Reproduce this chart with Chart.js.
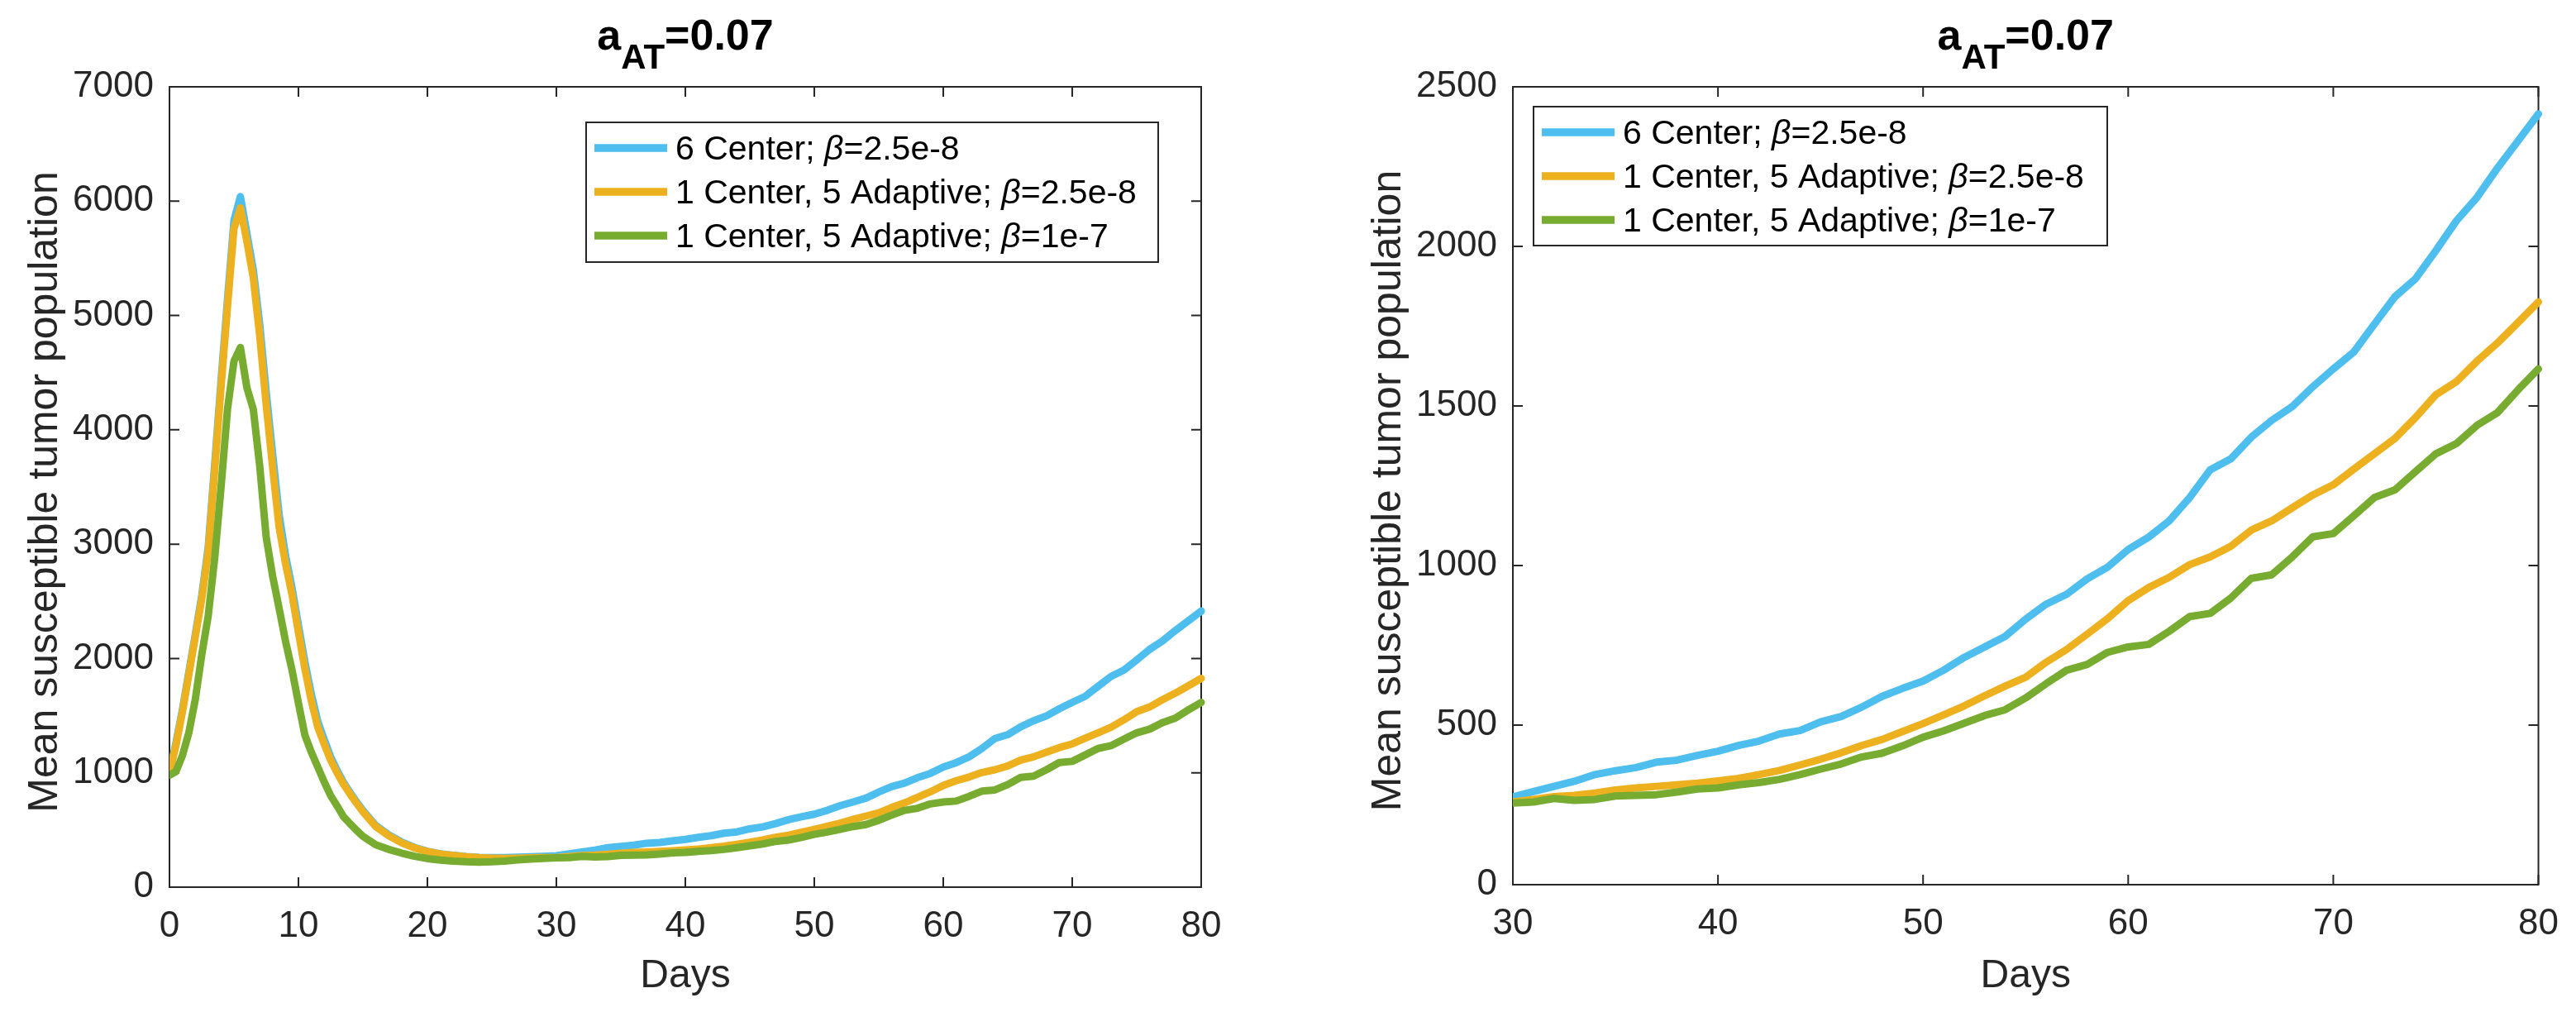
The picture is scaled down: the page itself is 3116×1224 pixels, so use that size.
<!DOCTYPE html>
<html>
<head>
<meta charset="utf-8">
<script src="https://cdn.jsdelivr.net/npm/chart.js@4.4.1/dist/chart.umd.min.js"></script>
<style>
  body { margin: 0; background: #fff; }
  #wrap { position: relative; width: 3116px; height: 1224px; }
  canvas { position: absolute; top: 0; }
</style>
</head>
<body>
<div id="wrap">
  <canvas id="leftChart" width="1558" height="1224" style="left:0"></canvas>
  <canvas id="rightChart" width="1558" height="1224" style="left:1558px"></canvas>
</div>
<script>
// days sampled every half day up to 15, then daily
const days = [0,0.5,1,1.5,2,2.5,3,3.5,4,4.5,5,5.5,6,6.5,7,7.5,8,8.5,9,9.5,10,10.5,11,11.5,12,12.5,13,13.5,14,14.5,15,
  16,17,18,19,20,21,22,23,24,25,26,27,28,29,30,31,32,33,34,35,36,37,38,39,40,41,42,43,44,45,46,47,48,49,50,
  51,52,53,54,55,56,57,58,59,60,61,62,63,64,65,66,67,68,69,70,71,72,73,74,75,76,77,78,79,80];

const sixCenter = [1000,1260,1550,1880,2210,2550,2970,3690,4430,5140,5830,6040,5720,5400,4920,4330,3790,3260,2900,2620,2290,1970,1690,1450,1290,1140,1020,915,828,748,672,
  540,458,394,347,314,292,278,268,261,258,258,262,266,270,
  275,292,308,324,345,357,367,384,390,405,418,436,450,472,483,510,527,556,590,615,638,672,712,745,778,832,879,910,958,995,
  1050,1089,1140,1213,1300,1334,1402,1455,1498,1560,1616,1669,1756,1842,1898,1987,2080,2153,2245,2330,2415];

const adaptiveLow = [1000,1240,1530,1860,2190,2520,2930,3640,4380,5080,5760,5940,5650,5330,4820,4220,3670,3150,2830,2560,2230,1910,1630,1400,1250,1110,1000,900,815,735,660,
  530,450,388,342,311,290,277,266,258,254,252,254,256,258,
  259,267,276,280,287,297,303,308,313,318,325,333,345,358,375,393,413,436,455,480,505,532,560,592,622,650,697,737,785,834,
  890,931,963,1003,1027,1060,1111,1140,1181,1221,1253,1302,1350,1398,1463,1535,1576,1640,1697,1761,1826];

const adaptiveHigh = [980,1010,1150,1350,1640,2030,2370,2870,3500,4180,4600,4720,4370,4180,3680,3060,2720,2440,2150,1900,1610,1330,1180,1050,920,800,710,615,555,498,445,
  370,330,298,270,250,237,228,222,219,222,228,238,246,252,
  256,259,270,264,267,278,280,282,290,300,303,313,320,330,345,362,378,400,412,435,462,482,506,530,548,585,630,672,690,728,
  745,753,794,840,850,898,960,971,1027,1090,1100,1156,1213,1237,1294,1350,1382,1439,1479,1550,1616];

const seriesLabels = ['6 Center; β=2.5e-8', '1 Center, 5 Adaptive; β=2.5e-8', '1 Center, 5 Adaptive; β=1e-7'];
const seriesColors = ['#4DBEEE', '#EDB120', '#77AC30'];

const titleBase = 'a';
const titleSub = 'AT';
const titleRest = '=0.07';
const xTitle = 'Days';
const yTitle = 'Mean susceptible tumor population';

const FONT = '"Liberation Sans", Arial, Helvetica, sans-serif';
const AXIS = '#262626';

function makeDatasets() {
  return [sixCenter, adaptiveLow, adaptiveHigh].map((vals, i) => ({
    label: seriesLabels[i],
    data: days.map((d, j) => ({ x: d, y: vals[j] })),
    borderColor: seriesColors[i],
    backgroundColor: seriesColors[i],
    borderWidth: 9,
    pointRadius: 0,
    tension: 0,
    borderJoinStyle: 'round',
    borderCapStyle: 'round',
    order: 3 - i,
    clip: { left: 0, right: 6, top: 6, bottom: 6 }
  }));
}

// box, inward ticks, titles and legend in MATLAB style
const matlabFrame = {
  id: 'matlabFrame',
  beforeDatasetsDraw(chart) {
    const { ctx, chartArea: a, scales: { x, y } } = chart;
    ctx.save();
    ctx.strokeStyle = AXIS;
    ctx.lineWidth = 2;
    ctx.strokeRect(a.left, a.top, a.width, a.height);
    ctx.beginPath();
    x.ticks.forEach(t => {
      const px = x.getPixelForValue(t.value);
      ctx.moveTo(px, a.bottom); ctx.lineTo(px, a.bottom - 12);
      ctx.moveTo(px, a.top); ctx.lineTo(px, a.top + 12);
    });
    y.ticks.forEach(t => {
      const py = y.getPixelForValue(t.value);
      ctx.moveTo(a.left, py); ctx.lineTo(a.left + 12, py);
      ctx.moveTo(a.right, py); ctx.lineTo(a.right - 12, py);
    });
    ctx.stroke();
    ctx.restore();
  },
  afterDraw(chart, args, opts) {
    const { ctx, chartArea: a } = chart;
    const cx = (a.left + a.right) / 2;
    ctx.save();

    // title a_AT=0.07
    ctx.fillStyle = '#000';
    ctx.textBaseline = 'alphabetic';
    ctx.textAlign = 'left';
    const big = 'bold 52px ' + FONT, small = 'bold 42px ' + FONT;
    ctx.font = big; const w1 = ctx.measureText(titleBase).width, w3 = ctx.measureText(titleRest).width;
    ctx.font = small; const w2 = ctx.measureText(titleSub).width;
    let tx = cx - (w1 + w2 + w3) / 2;
    ctx.font = big; ctx.fillText(titleBase, tx, 60);
    ctx.font = small; ctx.fillText(titleSub, tx + w1, 83);
    ctx.font = big; ctx.fillText(titleRest, tx + w1 + w2, 60);

    // axis titles
    ctx.fillStyle = AXIS;
    ctx.font = '48px ' + FONT;
    ctx.textAlign = 'center';
    ctx.fillText(xTitle, cx, 1194);
    ctx.save();
    ctx.font = '50px ' + FONT;
    ctx.translate(a.left - 150, (a.top + a.bottom) / 2 + 6);
    ctx.rotate(-Math.PI / 2);
    ctx.textBaseline = 'middle';
    ctx.fillText(yTitle, 0, 0);
    ctx.restore();

    // legend
    const L = opts.legend;
    ctx.fillStyle = '#fff';
    ctx.fillRect(L.x, L.y, L.w, L.h);
    ctx.strokeStyle = AXIS;
    ctx.lineWidth = 2;
    ctx.strokeRect(L.x, L.y, L.w, L.h);
    chart.data.datasets.forEach((ds, i) => {
      const ry = L.y + 31 + i * 53;
      ctx.strokeStyle = ds.borderColor;
      ctx.lineWidth = 9.5;
      ctx.beginPath();
      ctx.moveTo(L.x + 10, ry); ctx.lineTo(L.x + 98, ry);
      ctx.stroke();
      ctx.fillStyle = '#000';
      ctx.textAlign = 'left';
      ctx.textBaseline = 'alphabetic';
      let px = L.x + 108;
      const parts = ds.label.split('β');
      parts.forEach((p, k) => {
        if (k > 0) {
          ctx.font = 'italic 41px ' + FONT;
          ctx.fillText('β', px, ry + 14);
          px += ctx.measureText('β').width;
        }
        ctx.font = '41px ' + FONT;
        ctx.fillText(p, px, ry + 14);
        px += ctx.measureText(p).width;
      });
    });
    ctx.restore();
  }
};

function buildChart(id, xr, yr, pad, yWidth, xHeight, legendBox) {
  return new Chart(document.getElementById(id), {
    type: 'line',
    data: { datasets: makeDatasets() },
    options: {
      responsive: false,
      animation: false,
      devicePixelRatio: 1,
      layout: { padding: pad },
      plugins: {
        legend: { display: false },
        title: { display: false },
        tooltip: { enabled: false },
        matlabFrame: { legend: legendBox }
      },
      scales: {
        x: {
          type: 'linear', min: xr[0], max: xr[1],
          grid: { display: false, drawTicks: false },
          border: { display: false },
          ticks: { stepSize: 10, padding: 21, color: AXIS, font: { family: FONT, size: 44 }, maxRotation: 0,
            callback: v => String(v) },
          afterFit: s => { s.height = xHeight; }
        },
        y: {
          type: 'linear', min: yr[0], max: yr[1],
          grid: { display: false, drawTicks: false },
          border: { display: false },
          ticks: { stepSize: yr[2], padding: 19, color: AXIS, font: { family: FONT, size: 44 },
            callback: v => String(v) },
          afterFit: s => { s.width = yWidth; }
        }
      }
    },
    plugins: [matlabFrame]
  });
}

buildChart('leftChart', [0, 80], [0, 7000, 1000], { left: 0, top: 105, right: 105, bottom: 0 }, 205, 151,
  { x: 709, y: 148, w: 692, h: 169 });
buildChart('rightChart', [30, 80], [0, 2500, 500], { left: 0, top: 105, right: 37, bottom: 0 }, 272, 154,
  { x: 297, y: 129, w: 694, h: 168 });
</script>
</body>
</html>
